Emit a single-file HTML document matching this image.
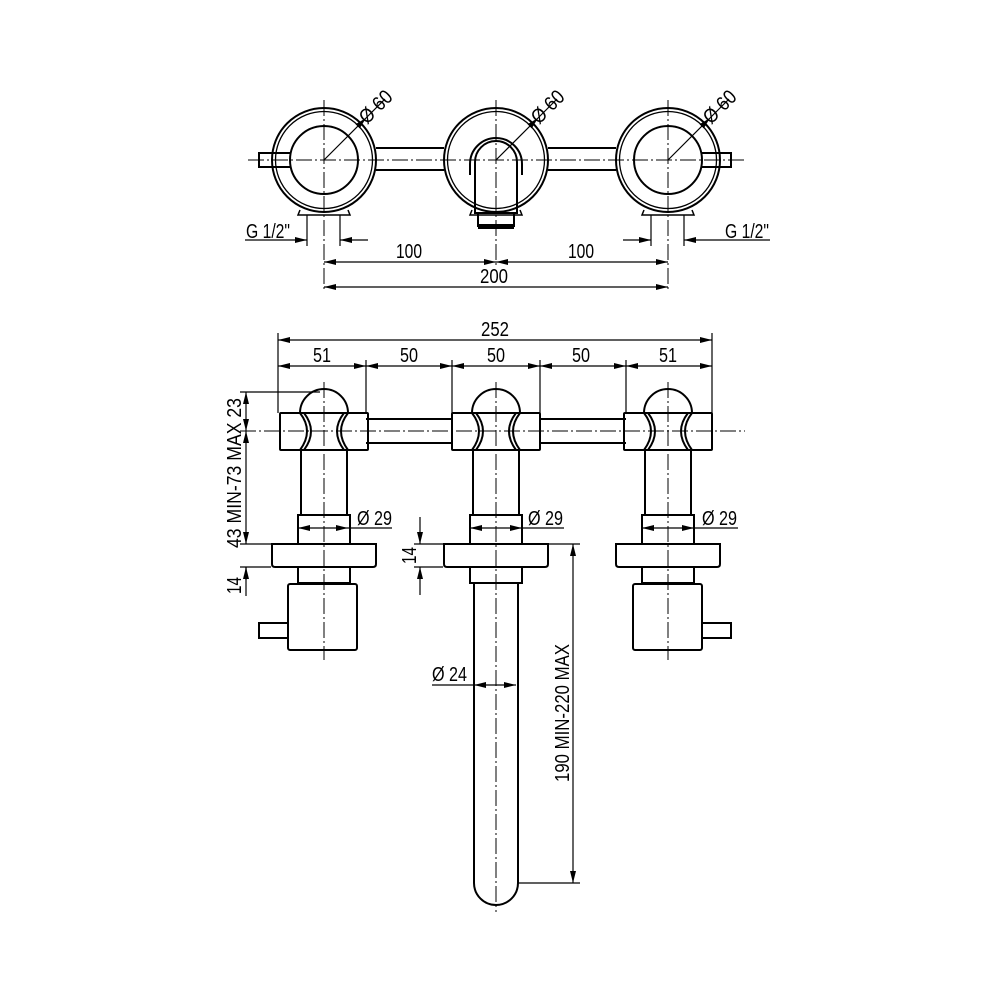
<!DOCTYPE html>
<html><head><meta charset="utf-8"><style>
html,body{margin:0;padding:0;background:#fff}
svg{display:block}
text{font-family:"Liberation Sans",sans-serif;font-size:20px;fill:#000}
</style></head><body>
<svg width="1000" height="1000" viewBox="0 0 1000 1000" xmlns="http://www.w3.org/2000/svg">
<defs>
<marker id="a" viewBox="0 0 12 6" refX="12" refY="3" markerWidth="12" markerHeight="6" orient="auto-start-reverse" markerUnits="userSpaceOnUse"><path d="M0,0 L12,3 L0,6 z" fill="#000"/></marker>
<g id="top">
<circle cx="0" cy="0" r="52" fill="none" stroke="#000" stroke-width="2"/>
<circle cx="0" cy="0" r="48.5" fill="none" stroke="#000" stroke-width="1.3"/>
<path d="M-24,50 L-26,55 L26,55 L24,50" fill="none" stroke="#000" stroke-width="1.5"/>
</g>
<g id="valve" fill="none" stroke="#000" stroke-width="2">
<rect x="-44" y="413" width="88" height="37" rx="1"/>
<path d="M-24,413 A24,24 0 0 1 24,413"/>
<path d="M-24,413 Q-10,431 -24,450 M-20,413 Q-6,431 -20,450"/>
<path d="M24,413 Q10,431 24,450 M20,413 Q6,431 20,450"/>
<rect x="-23" y="450" width="46" height="65"/>
<rect x="-26" y="515" width="52" height="29"/>
<path d="M-52,544 H52 V564 Q52,567 49,567 H-49 Q-52,567 -52,564 Z"/>
<rect x="-26" y="567" width="52" height="16"/>
</g>
</defs>
<g fill="none" stroke="#000">
<line x1="248" y1="160" x2="745" y2="160" stroke-width="1" stroke-dasharray="16,3,2,3"/>
<g stroke-width="2">
<line x1="376" y1="148" x2="444" y2="148"/><line x1="376" y1="170" x2="444" y2="170"/>
<line x1="548" y1="148" x2="616" y2="148"/><line x1="548" y1="170" x2="616" y2="170"/>
<path d="M290,153 H259 V167 H290"/>
<path d="M702,153 H731 V167 H702"/>
<circle cx="324" cy="160" r="34"/><circle cx="668" cy="160" r="34"/>
</g>
<use href="#top" x="324" y="160"/><use href="#top" x="496" y="160"/><use href="#top" x="668" y="160"/>
<g stroke-width="2">
<path d="M470,175 V164 A26,26 0 0 1 522,164 V175"/>
<path d="M475,213 V162 A21,21 0 0 1 517,162 V213 Z"/>
<path d="M478,213 V226 H514 V213"/>
</g>
<rect x="478" y="224" width="36" height="5" fill="#000" stroke="none"/>
<g stroke-width="1" stroke-dasharray="16,3,2,3">
<line x1="324" y1="100" x2="324" y2="292"/><line x1="496" y1="100" x2="496" y2="268"/><line x1="668" y1="100" x2="668" y2="292"/>
</g>
<g stroke-width="1.2">
<line x1="324" y1="160" x2="366" y2="118" marker-end="url(#a)"/><line x1="366" y1="118" x2="385" y2="99"/>
<line x1="496" y1="160" x2="538" y2="118" marker-end="url(#a)"/><line x1="538" y1="118" x2="557" y2="99"/>
<line x1="668" y1="160" x2="710" y2="118" marker-end="url(#a)"/><line x1="710" y1="118" x2="729" y2="99"/>
<line x1="307" y1="215" x2="307" y2="246"/><line x1="340" y1="215" x2="340" y2="246"/>
<line x1="651" y1="215" x2="651" y2="246"/><line x1="684" y1="215" x2="684" y2="246"/>
<line x1="245" y1="240" x2="307" y2="240" marker-end="url(#a)"/><line x1="368" y1="240" x2="340" y2="240" marker-end="url(#a)"/>
<line x1="623" y1="240" x2="651" y2="240" marker-end="url(#a)"/><line x1="770" y1="240" x2="684" y2="240" marker-end="url(#a)"/>
<line x1="324" y1="262" x2="496" y2="262" marker-start="url(#a)" marker-end="url(#a)"/>
<line x1="496" y1="262" x2="668" y2="262" marker-start="url(#a)" marker-end="url(#a)"/>
<line x1="324" y1="287" x2="668" y2="287" marker-start="url(#a)" marker-end="url(#a)"/>
</g>
<g stroke-width="2">
<line x1="366" y1="419" x2="452" y2="419"/><line x1="366" y1="443" x2="452" y2="443"/>
<line x1="540" y1="419" x2="626" y2="419"/><line x1="540" y1="443" x2="626" y2="443"/>
</g>
<use href="#valve" x="324"/><use href="#valve" x="496"/><use href="#valve" x="668"/>
<g stroke-width="2">
<rect x="288" y="584" width="69" height="66" rx="2"/><rect x="259" y="623" width="29" height="15"/>
<rect x="633" y="584" width="69" height="66" rx="2"/><rect x="702" y="623" width="29" height="15"/>
<path d="M474,583 V883 A22,22 0 0 0 518,883 V583"/>
</g>
<line x1="240" y1="431" x2="745" y2="431" stroke-width="1" stroke-dasharray="16,3,2,3"/>
<g stroke-width="1" stroke-dasharray="16,3,2,3">
<line x1="324" y1="382" x2="324" y2="660"/><line x1="496" y1="382" x2="496" y2="912"/><line x1="668" y1="382" x2="668" y2="660"/>
</g>
<g stroke-width="1.2">
<line x1="278" y1="333" x2="278" y2="413"/><line x1="712" y1="333" x2="712" y2="413"/>
<line x1="366" y1="360" x2="366" y2="413"/><line x1="452" y1="360" x2="452" y2="413"/>
<line x1="540" y1="360" x2="540" y2="413"/><line x1="626" y1="360" x2="626" y2="413"/>
<line x1="278" y1="340" x2="712" y2="340" marker-start="url(#a)" marker-end="url(#a)"/>
<line x1="278" y1="366" x2="366" y2="366" marker-start="url(#a)" marker-end="url(#a)"/>
<line x1="366" y1="366" x2="452" y2="366" marker-start="url(#a)" marker-end="url(#a)"/>
<line x1="452" y1="366" x2="540" y2="366" marker-start="url(#a)" marker-end="url(#a)"/>
<line x1="540" y1="366" x2="626" y2="366" marker-start="url(#a)" marker-end="url(#a)"/>
<line x1="626" y1="366" x2="712" y2="366" marker-start="url(#a)" marker-end="url(#a)"/>
<line x1="240" y1="392" x2="320" y2="392"/>
<line x1="240" y1="544" x2="271" y2="544"/><line x1="240" y1="567" x2="271" y2="567"/>
<line x1="246" y1="392" x2="246" y2="431" marker-start="url(#a)" marker-end="url(#a)"/>
<line x1="246" y1="431" x2="246" y2="544" marker-start="url(#a)" marker-end="url(#a)"/>
<line x1="246" y1="567" x2="246" y2="596"/><line x1="246" y1="580" x2="246" y2="567" marker-end="url(#a)"/>
<line x1="420" y1="517" x2="420" y2="544" marker-end="url(#a)"/>
<line x1="420" y1="595" x2="420" y2="567" marker-end="url(#a)"/>
<line x1="414" y1="544" x2="443" y2="544"/><line x1="414" y1="567" x2="443" y2="567"/>
<line x1="549" y1="544" x2="580" y2="544"/><line x1="518" y1="883" x2="580" y2="883"/>
<line x1="573" y1="544" x2="573" y2="883" marker-start="url(#a)" marker-end="url(#a)"/>
<line x1="298" y1="528" x2="348" y2="528" marker-start="url(#a)" marker-end="url(#a)"/><line x1="348" y1="528" x2="392" y2="528"/>
<line x1="470" y1="528" x2="522" y2="528" marker-start="url(#a)" marker-end="url(#a)"/><line x1="522" y1="528" x2="564" y2="528"/>
<line x1="642" y1="528" x2="694" y2="528" marker-start="url(#a)" marker-end="url(#a)"/><line x1="694" y1="528" x2="738" y2="528"/>
<line x1="432" y1="685" x2="474" y2="685"/>
<line x1="474" y1="685" x2="516" y2="685" marker-start="url(#a)" marker-end="url(#a)"/>
</g>
</g>
<text transform="translate(367,125) rotate(-45)" textLength="38" lengthAdjust="spacingAndGlyphs">Ø 60</text>
<text transform="translate(539,125) rotate(-45)" textLength="38" lengthAdjust="spacingAndGlyphs">Ø 60</text>
<text transform="translate(711,125) rotate(-45)" textLength="38" lengthAdjust="spacingAndGlyphs">Ø 60</text>
<text x="246" y="238" textLength="44" lengthAdjust="spacingAndGlyphs">G 1/2"</text>
<text x="725" y="238" textLength="44" lengthAdjust="spacingAndGlyphs">G 1/2"</text>
<text x="396" y="258" textLength="26" lengthAdjust="spacingAndGlyphs">100</text>
<text x="568" y="258" textLength="26" lengthAdjust="spacingAndGlyphs">100</text>
<text x="480" y="283" textLength="28" lengthAdjust="spacingAndGlyphs">200</text>
<text x="481" y="336" textLength="28" lengthAdjust="spacingAndGlyphs">252</text>
<text x="313" y="362" textLength="18" lengthAdjust="spacingAndGlyphs">51</text>
<text x="400" y="362" textLength="18" lengthAdjust="spacingAndGlyphs">50</text>
<text x="487" y="362" textLength="18" lengthAdjust="spacingAndGlyphs">50</text>
<text x="572" y="362" textLength="18" lengthAdjust="spacingAndGlyphs">50</text>
<text x="659" y="362" textLength="18" lengthAdjust="spacingAndGlyphs">51</text>
<text transform="translate(241,548) rotate(-90)" textLength="150" lengthAdjust="spacingAndGlyphs">43 MIN-73 MAX 23</text>
<text transform="translate(241,594) rotate(-90)" textLength="17" lengthAdjust="spacingAndGlyphs">14</text>
<text transform="translate(416,564) rotate(-90)" textLength="17" lengthAdjust="spacingAndGlyphs">14</text>
<text x="357" y="525" textLength="35" lengthAdjust="spacingAndGlyphs">Ø 29</text>
<text x="528" y="525" textLength="35" lengthAdjust="spacingAndGlyphs">Ø 29</text>
<text x="702" y="525" textLength="35" lengthAdjust="spacingAndGlyphs">Ø 29</text>
<text x="432" y="681" textLength="35" lengthAdjust="spacingAndGlyphs">Ø 24</text>
<text transform="translate(569,782) rotate(-90)" textLength="138" lengthAdjust="spacingAndGlyphs">190 MIN-220 MAX</text>
</svg>
</body></html>
